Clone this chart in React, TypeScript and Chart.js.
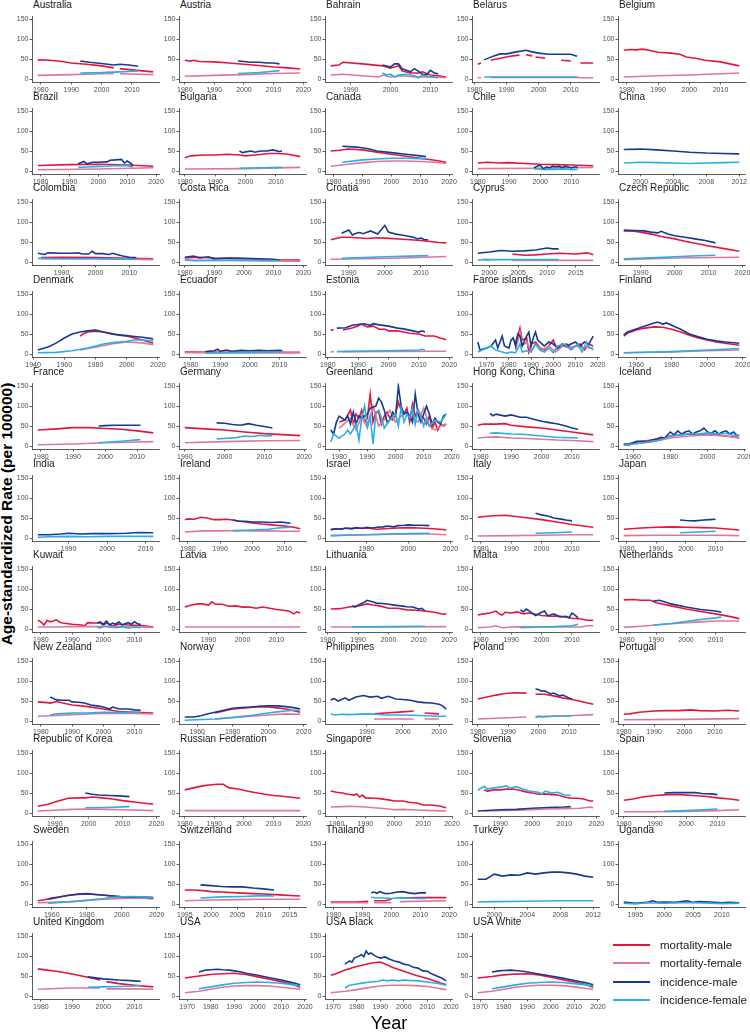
import React, { useEffect, useRef } from 'react';
import { Chart, registerables } from 'chart.js';
Chart.register(...registerables);

type Pt = [number, number | null];
type Country = { ticks: number[]; mMale?: Pt[]; mFemale?: Pt[]; iMale?: Pt[]; iFemale?: Pt[] };

const SERIES_KEYS = ['mMale', 'mFemale', 'iMale', 'iFemale'];
const SERIES_LABELS = ['mortality-male', 'mortality-female', 'incidence-male', 'incidence-female'];
const SERIES_COLORS = ['#E3173E', '#DE7898', '#163A94', '#2BAEE6'];
const Y_TICKS = [0, 50, 100, 150];

const australia: Country = {
  ticks: [1980, 1990, 2000, 2010],
  mMale: [[1979, 48], [1983, 47], [1987, 44], [1990, 40], [1995, 37], [2000, 33], [2004, 28], [2005, null], [2006, 26], [2010, 23], [2017, 18]],
  mFemale: [[1979, 9], [1990, 11], [2000, 13], [2004, 14], [2005, null], [2006, 13], [2017, 11]],
  iMale: [[1993, 45], [1996, 42], [2000, 39], [2004, 35], [2006, 37], [2009, 35], [2012, 32]],
  iFemale: [[1993, 15], [2000, 16], [2006, 18], [2012, 20]],
};
const austria: Country = {
  ticks: [1980, 1990, 2000, 2010, 2020],
  mMale: [[1980, 47], [1982, 45], [1983, 47], [1985, 44], [1990, 43], [1995, 40], [2000, 37], [2005, 34], [2010, 30], [2015, 28], [2019, 25]],
  mFemale: [[1980, 7], [1990, 9], [2000, 11], [2010, 14], [2019, 15]],
  iMale: [[1998, 45], [2000, 44], [2002, 42], [2005, 42], [2008, 40], [2010, 40], [2012, 38]],
  iFemale: [[1998, 14], [2002, 15], [2005, 16], [2009, 19], [2012, 21]],
};
const bahrain: Country = {
  ticks: [1990, 2000, 2010],
  mMale: [[1985, 33], [1987, 35], [1988, 42], [1993, 38], [1998, 33], [2000, 27], [2001, 30], [2002, 33], [2003, 20], [2005, 15], [2007, 15], [2008, 18], [2010, 10], [2012, 8], [2014, 5]],
  mFemale: [[1985, 10], [1988, 12], [1997, 5], [1998, 10], [2000, 5], [2003, 8], [2006, 5], [2010, 6], [2014, 3]],
  iMale: [[1998, 35], [2000, 30], [2001, 38], [2002, 38], [2003, 25], [2004, 22], [2005, 18], [2006, 26], [2007, 20], [2008, 12], [2009, 10], [2010, 22], [2011, 15], [2012, 13]],
  iFemale: [[1998, 15], [1999, 10], [2000, 12], [2001, 5], [2002, 10], [2004, 12], [2006, 8], [2007, 3], [2008, 10], [2010, 5], [2012, 3]],
};
const belarus: Country = {
  ticks: [1980, 1990, 2000, 2010],
  mMale: [[1981, 37], [1982, 40], [1983, null], [1985, 47], [1988, 52], [1991, 57], [1994, 60], [1995, null], [1996, 61], [1998, 58], [1998.5, null], [1999, 55], [2002, 52], [2003, null], [2007, 47], [2010, 45], [2011, null], [2013, 40], [2017, 40]],
  mFemale: [[1981, 3], [1982, 3], [1983, null], [1985, 4], [2012, 4], [2013, 3], [2017, 3]],
  iMale: [[1983, 48], [1986, 58], [1988, 63], [1990, 63], [1993, 68], [1996, 72], [1998, 68], [2000, 65], [2003, 62], [2006, 62], [2010, 62], [2012, 57]],
  iFemale: [[1983, 5], [2000, 5], [2012, 5]],
};
const belgium: Country = {
  ticks: [1980, 1990, 2000, 2010],
  mMale: [[1979, 72], [1981, 74], [1983, 73], [1985, 75], [1987, 72], [1990, 67], [1994, 65], [1997, 62], [1999, 55], [2002, 52], [2005, 47], [2010, 43], [2013, 38], [2016, 33]],
  mFemale: [[1979, 5], [1990, 8], [2000, 10], [2010, 13], [2016, 15]],
};
const brazil: Country = {
  ticks: [1980, 1990, 2000, 2010, 2020],
  mMale: [[1979, 14], [1990, 16], [2000, 17], [2010, 15], [2019, 12]],
  mFemale: [[1979, 3], [2000, 5], [2019, 8]],
  iMale: [[1993, 18], [1995, 24], [1996, 18], [1998, 22], [2000, 22], [2003, 23], [2004, 27], [2006, 28], [2008, 29], [2009, 20], [2010, 25], [2012, 15]],
  iFemale: [[1993, 9], [1996, 10], [1999, 11], [2003, 12], [2005, 13], [2008, 14], [2010, 13], [2012, 10]],
};
const bulgaria: Country = {
  ticks: [1980, 1990, 2000, 2010],
  mMale: [[1980, 33], [1982, 38], [1986, 40], [1990, 40], [1994, 42], [1998, 40], [2000, 38], [2003, 40], [2008, 44], [2011, 44], [2014, 42], [2018, 36]],
  mFemale: [[1980, 5], [2000, 6], [2018, 9]],
  iMale: [[1998, 50], [1999, 46], [2000, 48], [2002, 50], [2003, 47], [2005, 50], [2007, 50], [2009, 53], [2011, 49], [2012, 50]],
  iFemale: [[1998, 7], [2005, 8], [2012, 9]],
};
const canada: Country = {
  ticks: [1980, 1990, 2000, 2010, 2020],
  mMale: [[1979, 50], [1982, 52], [1985, 55], [1990, 53], [1995, 47], [2000, 42], [2005, 37], [2010, 32], [2015, 27], [2019, 22]],
  mFemale: [[1979, 12], [1985, 17], [1990, 21], [1995, 24], [2000, 25], [2005, 25], [2010, 24], [2015, 22], [2019, 19]],
  iMale: [[1983, 62], [1988, 60], [1992, 56], [1995, 50], [2000, 46], [2005, 42], [2010, 38], [2012, 36]],
  iFemale: [[1983, 22], [1990, 28], [1995, 30], [2000, 32], [2005, 32], [2010, 31], [2012, 30]],
};
const chile: Country = {
  ticks: [1980, 1990, 2000, 2010],
  mMale: [[1980, 20], [1983, 22], [1987, 20], [1990, 21], [1995, 19], [2000, 17], [2005, 16], [2010, 15], [2017, 13]],
  mFemale: [[1980, 6], [2000, 7], [2017, 9]],
  iMale: [[1998, 8], [2000, 15], [2001, 5], [2002, 10], [2003, 8], [2004, 12], [2005, 10], [2006, 12], [2007, 8], [2008, 12], [2009, 10], [2010, 8], [2011, 10], [2012, 10]],
  iFemale: [[1998, 5], [2000, 5], [2001, 3], [2003, 4], [2005, 4], [2008, 5], [2010, 3], [2012, 4]],
};
const china: Country = {
  ticks: [2000, 2004, 2008, 2012],
  iMale: [[1998, 54], [2000, 55], [2002, 53], [2004, 50], [2006, 47], [2008, 45], [2010, 44], [2012, 43]],
  iFemale: [[1998, 20], [2000, 22], [2002, 21], [2004, 20], [2006, 19], [2008, 20], [2010, 21], [2012, 22]],
};
const colombia: Country = {
  ticks: [1990, 2000, 2010],
  mMale: [[1984, 11], [1990, 12], [2000, 11], [2010, 9], [2017, 8]],
  mFemale: [[1984, 8], [2000, 8], [2017, 6]],
  iMale: [[1983, 22], [1985, 19], [1986, 23], [1990, 22], [1993, 22], [1995, 23], [1996, 20], [1998, 20], [1999, 27], [2000, 21], [2002, 21], [2004, 19], [2005, 22], [2008, 15], [2010, 12], [2012, 11]],
  iFemale: [[1983, 9], [1990, 8], [2000, 8], [2012, 7]],
};
const costaRica: Country = {
  ticks: [1980, 1990, 2000, 2010, 2020],
  mMale: [[1980, 10], [1985, 12], [1990, 10], [2000, 8], [2010, 5], [2019, 5]],
  mFemale: [[1980, 5], [2000, 3], [2019, 2]],
  iMale: [[1980, 12], [1983, 15], [1985, 10], [1988, 13], [1990, 8], [1995, 10], [2000, 9], [2005, 8], [2010, 7], [2012, 5]],
  iFemale: [[1980, 5], [1983, 3], [1985, 3], [1990, 4], [2000, 5], [2012, 3]],
};
const croatia: Country = {
  ticks: [1990, 2000, 2010],
  mMale: [[1985, 56], [1988, 62], [1990, 62], [1995, 59], [1998, 61], [2000, 60], [2005, 57], [2010, 54], [2015, 49], [2017, 48]],
  mFemale: [[1985, 7], [1995, 8], [2005, 10], [2017, 14]],
  iMale: [[1988, 72], [1990, 80], [1991, 68], [1992, 72], [1993, 74], [1994, 71], [1996, 78], [1998, 70], [2000, 92], [2001, 75], [2003, 70], [2005, 67], [2008, 62], [2009, 58], [2010, 60], [2011, 56], [2012, 56]],
  iFemale: [[1988, 9], [2000, 13], [2012, 16]],
};
const cyprus: Country = {
  ticks: [2000, 2005, 2010, 2015],
  mMale: [[2004, 20], [2006, 17], [2008, 18], [2010, 20], [2012, 22], [2015, 20], [2017, 23], [2018, 18]],
  mFemale: [[1999, 8], [2000, 3], [2001, null], [2004, 4], [2018, 4]],
  iMale: [[1998, 22], [2000, 25], [2002, 29], [2004, 27], [2006, 28], [2008, 30], [2010, 35], [2011, 33], [2012, 33]],
  iFemale: [[1998, 5], [2000, 6], [2004, 6], [2008, 6], [2012, 6]],
};
const czech: Country = {
  ticks: [1990, 2000, 2010, 2020],
  mMale: [[1985, 78], [1988, 77], [1990, 75], [1993, 70], [1996, 64], [2000, 58], [2003, 52], [2006, 47], [2010, 40], [2015, 33], [2019, 27]],
  mFemale: [[1985, 6], [2000, 10], [2019, 12]],
  iMale: [[1985, 80], [1988, 79], [1991, 78], [1993, 75], [1995, 73], [1996, 77], [1998, 70], [2000, 66], [2003, 62], [2006, 58], [2009, 54], [2012, 48]],
  iFemale: [[1985, 8], [1995, 11], [2005, 15], [2012, 17]],
};
const denmark: Country = {
  ticks: [1940, 1960, 1980, 2000, 2020],
  mMale: [[1970, 45], [1972, 50], [1975, 55], [1980, 57], [1985, 55], [1990, 52], [1995, 47], [2000, 45], [2005, 40], [2010, 35], [2017, 27]],
  mFemale: [[1970, 10], [1980, 17], [1990, 25], [2000, 30], [2010, 28], [2017, 23]],
  iMale: [[1943, 10], [1950, 18], [1955, 28], [1960, 40], [1965, 50], [1970, 55], [1975, 58], [1980, 60], [1985, 55], [1990, 50], [1995, 48], [2000, 46], [2005, 44], [2010, 42], [2017, 38]],
  iFemale: [[1943, 3], [1955, 4], [1965, 8], [1975, 15], [1985, 25], [1990, 28], [2000, 32], [2005, 35], [2010, 35], [2017, 33]],
};
const ecuador: Country = {
  ticks: [1980, 1990, 2000, 2010],
  mMale: [[1978, 5], [2000, 4], [2017, 4]],
  mFemale: [[1978, 3], [2017, 3]],
  iMale: [[1985, 6], [1988, 8], [1989, 12], [1990, 7], [1992, 10], [1994, 7], [1997, 9], [2000, 8], [2003, 9], [2006, 8], [2010, 9], [2011, 8]],
  iFemale: [[1985, 2], [2000, 4], [2011, 5]],
};
const estonia: Country = {
  ticks: [1980, 1990, 2000, 2010, 2020],
  mMale: [[1981, 60], [1982, 61], [1983, null], [1985, 60], [1988, 65], [1990, 70], [1991, 75], [1993, 68], [1995, 70], [1997, 62], [1999, 62], [2000, 58], [2003, 58], [2005, 55], [2007, 52], [2010, 50], [2012, 45], [2015, 45], [2017, 40], [2019, 36]],
  mFemale: [[1981, 5], [1982, 6], [1983, null], [1985, 6], [2019, 7]],
  iMale: [[1983, 65], [1986, 66], [1988, 72], [1990, 74], [1992, 76], [1994, 72], [1995, 76], [1997, 73], [2000, 70], [2003, 65], [2005, 63], [2008, 58], [2010, 55], [2011, 58], [2012, 55]],
  iFemale: [[1983, 6], [2000, 8], [2010, 10], [2011, 12], [2012, 10]],
};
const faroe: Country = {
  ticks: [1970, 1980, 1990, 2000, 2010, 2020],
  mMale: [[1983, 30], [1984, 45], [1985, 65], [1986, 35], [1988, 40], [1989, 5], [1990, 25], [1992, 30], [1994, 15], [1996, 10], [1998, 20], [2000, 35], [2002, 10], [2004, 20], [2006, 25], [2008, 15], [2010, 20], [2012, 25], [2014, 10], [2016, 25], [2018, 20]],
  mFemale: [[1983, 10], [1985, 55], [1986, 20], [1988, 30], [1990, 8], [1992, 25], [1995, 10], [1998, 20], [2001, 5], [2004, 20], [2007, 15], [2010, 20], [2013, 15], [2016, 20], [2018, 10]],
  iMale: [[1966, 30], [1967, 10], [1970, 15], [1972, 20], [1974, 35], [1975, 15], [1977, 45], [1978, 20], [1980, 15], [1981, 35], [1982, 40], [1983, 20], [1984, 50], [1985, 45], [1986, 20], [1988, 45], [1989, 55], [1990, 20], [1991, 40], [1992, 55], [1993, 35], [1995, 25], [1996, 20], [1998, 30], [2000, 25], [2002, 15], [2004, 25], [2006, 20], [2008, 25], [2010, 30], [2012, 20], [2014, 30], [2016, 25], [2017, 35], [2018, 45]],
  iFemale: [[1966, 5], [1968, 10], [1970, 15], [1972, 20], [1974, 10], [1977, 5], [1979, 2], [1981, 5], [1983, 3], [1985, 25], [1986, 5], [1988, 8], [1990, 5], [1992, 25], [1994, 10], [1996, 5], [1998, 15], [2000, 3], [2002, 20], [2005, 25], [2008, 10], [2011, 25], [2013, 5], [2015, 30], [2016, 15], [2018, 15]],
};
const finland: Country = {
  ticks: [1960, 1980, 2000, 2020],
  mMale: [[1953, 45], [1955, 52], [1960, 60], [1965, 65], [1970, 68], [1975, 67], [1980, 62], [1985, 55], [1990, 47], [1995, 40], [2000, 35], [2005, 30], [2010, 27], [2018, 22]],
  mFemale: [[1953, 3], [1980, 5], [2000, 8], [2018, 10]],
  iMale: [[1953, 48], [1955, 55], [1960, 63], [1965, 70], [1970, 78], [1972, 80], [1975, 75], [1977, 78], [1980, 72], [1985, 62], [1990, 50], [1995, 43], [2000, 37], [2005, 33], [2010, 30], [2018, 27]],
  iFemale: [[1953, 3], [1980, 6], [2000, 10], [2018, 14]],
};
const france: Country = {
  ticks: [1980, 1990, 2000, 2010],
  mMale: [[1979, 40], [1985, 43], [1990, 46], [1995, 46], [2000, 44], [2005, 42], [2010, 38], [2015, 33]],
  mFemale: [[1979, 3], [1990, 5], [2000, 8], [2010, 10], [2015, 11]],
  iMale: [[1998, 50], [2000, 51], [2003, 52], [2006, 52], [2009, 52], [2011, 52]],
  iFemale: [[1998, 8], [2005, 12], [2011, 16]],
};
const germany: Country = {
  ticks: [1990, 2000, 2010, 2020],
  mMale: [[1990, 46], [1995, 43], [2000, 40], [2005, 35], [2010, 31], [2019, 26]],
  mFemale: [[1990, 8], [2000, 11], [2010, 13], [2019, 14]],
  iMale: [[1998, 58], [2000, 57], [2002, 54], [2004, 52], [2006, 56], [2008, 52], [2010, 49], [2012, 45]],
  iFemale: [[1998, 18], [2000, 19], [2003, 21], [2005, 25], [2007, 24], [2009, 27], [2010, 25], [2012, 26]],
};
const greenland: Country = {
  ticks: [1980, 1990, 2000, 2010, 2020],
  mMale: [[1980, 60], [1982, 65], [1984, 90], [1985, 55], [1986, 80], [1987, 70], [1988, 90], [1989, 60], [1990, 70], [1991, 130], [1992, 60], [1993, 85], [1994, 85], [1995, 55], [1996, 75], [1997, 85], [1998, 70], [1999, 65], [2000, 80], [2001, 110], [2002, 90], [2003, 80], [2004, 95], [2005, 60], [2006, 105], [2007, 75], [2008, 90], [2009, 75], [2010, 70], [2011, 55], [2012, 75], [2013, 45], [2014, 60], [2015, 40], [2016, 55], [2017, 50], [2018, 55]],
  mFemale: [[1980, 45], [1984, 70], [1986, 40], [1988, 75], [1990, 45], [1992, 100], [1994, 50], [1996, 65], [1998, 90], [2000, 60], [2002, 75], [2004, 85], [2006, 70], [2008, 60], [2010, 95], [2012, 50], [2014, 40], [2016, 50], [2018, 55]],
  iMale: [[1977, 40], [1978, 30], [1979, 60], [1980, 75], [1982, 65], [1983, 75], [1984, 55], [1985, 85], [1986, 55], [1987, 75], [1988, 70], [1990, 80], [1991, 95], [1993, 100], [1994, 120], [1995, 110], [1996, 90], [1997, 60], [1998, 65], [1999, 85], [2000, 75], [2001, 150], [2002, 100], [2003, 80], [2004, 85], [2005, 75], [2006, 60], [2007, 130], [2008, 80], [2009, 60], [2010, 80], [2011, 100], [2012, 80], [2013, 55], [2014, 70], [2015, 60], [2016, 55], [2017, 75], [2018, 80]],
  iFemale: [[1977, 10], [1978, 30], [1980, 20], [1982, 30], [1983, 40], [1984, 30], [1986, 55], [1987, 15], [1988, 70], [1989, 100], [1990, 50], [1991, 75], [1992, 5], [1993, 80], [1994, 90], [1995, 70], [1996, 45], [1998, 65], [2000, 80], [2001, 50], [2002, 95], [2003, 60], [2004, 80], [2005, 70], [2006, 95], [2007, 55], [2008, 90], [2009, 75], [2010, 50], [2011, 70], [2012, 50], [2014, 65], [2016, 60], [2018, 80]],
};
const hongKong: Country = {
  ticks: [1980, 1990, 2000, 2010],
  mMale: [[1979, 52], [1981, 55], [1985, 55], [1988, 56], [1990, 52], [1995, 48], [2000, 45], [2005, 40], [2010, 35], [2017, 28]],
  mFemale: [[1979, 20], [1982, 22], [1985, 23], [1990, 20], [1995, 19], [2000, 17], [2005, 15], [2010, 14], [2017, 11]],
  iMale: [[1983, 82], [1984, 76], [1985, 80], [1988, 75], [1990, 78], [1993, 72], [1995, 72], [1998, 66], [2000, 62], [2003, 58], [2005, 56], [2008, 50], [2010, 45], [2012, 42]],
  iFemale: [[1983, 32], [1985, 33], [1990, 30], [1995, 29], [2000, 25], [2005, 22], [2012, 20]],
};
const iceland: Country = {
  ticks: [1960, 1980, 2000, 2020],
  mMale: [[1955, 3], [1960, 8], [1965, 12], [1970, 15], [1975, 18], [1980, 25], [1985, 28], [1990, 30], [1995, 28], [2000, 30], [2005, 28], [2010, 25], [2015, 22], [2017, 20]],
  mFemale: [[1955, 2], [1960, 5], [1970, 10], [1980, 20], [1990, 25], [2000, 28], [2010, 25], [2017, 20]],
  iMale: [[1955, 5], [1958, 3], [1960, 8], [1962, 12], [1965, 12], [1968, 10], [1970, 15], [1973, 18], [1975, 22], [1977, 20], [1979, 30], [1980, 35], [1982, 28], [1984, 38], [1986, 30], [1988, 35], [1990, 38], [1992, 30], [1994, 35], [1996, 38], [1998, 45], [2000, 35], [2002, 32], [2004, 38], [2006, 30], [2008, 35], [2010, 38], [2012, 30], [2014, 35], [2016, 25], [2017, 28]],
  iFemale: [[1955, 2], [1960, 5], [1965, 8], [1970, 12], [1975, 15], [1980, 25], [1985, 28], [1990, 30], [1995, 30], [2000, 33], [2005, 30], [2010, 32], [2015, 25], [2017, 27]],
};
const india: Country = {
  ticks: [1990, 2000, 2010],
  iMale: [[1982, 8], [1985, 8], [1988, 10], [1990, 12], [1993, 10], [1996, 11], [2000, 11], [2005, 12], [2008, 14], [2012, 13]],
  iFemale: [[1982, 2], [1985, 3], [1990, 4], [1995, 3], [2000, 4], [2005, 4], [2012, 4]],
};
const ireland: Country = {
  ticks: [1980, 1990, 2000, 2010],
  mMale: [[1979, 46], [1980, 48], [1982, 47], [1984, 52], [1986, 50], [1988, 46], [1990, 46], [1992, 47], [1994, 45], [1996, 42], [1998, 40], [2000, 38], [2003, 35], [2006, 33], [2010, 30], [2013, 27], [2015, 23]],
  mFemale: [[1979, 15], [1985, 18], [1990, 18], [1995, 19], [2000, 18], [2005, 18], [2010, 17], [2015, 17]],
  iMale: [[1994, 45], [1996, 42], [1998, 42], [2000, 40], [2003, 40], [2006, 39], [2009, 40], [2012, 37]],
  iFemale: [[1994, 18], [2000, 20], [2005, 22], [2008, 25], [2012, 27]],
};
const israel: Country = {
  ticks: [1980, 2000, 2020],
  mMale: [[1963, 22], [1970, 24], [1980, 25], [1985, 22], [1990, 24], [1995, 25], [2000, 26], [2005, 25], [2010, 24], [2015, 22], [2018, 20]],
  mFemale: [[1963, 7], [1980, 8], [2000, 10], [2010, 10], [2018, 8]],
  iMale: [[1963, 20], [1965, 23], [1968, 22], [1970, 25], [1973, 23], [1975, 26], [1978, 24], [1980, 27], [1983, 25], [1985, 27], [1988, 28], [1990, 30], [1993, 28], [1995, 31], [1998, 32], [2000, 33], [2003, 32], [2006, 32], [2010, 31]],
  iFemale: [[1963, 5], [1970, 7], [1980, 8], [1990, 10], [2000, 11], [2010, 12]],
};
const italy: Country = {
  ticks: [1980, 1990, 2000, 2010],
  mMale: [[1979, 52], [1983, 55], [1988, 57], [1990, 55], [1995, 51], [2000, 46], [2005, 40], [2010, 34], [2017, 27]],
  mFemale: [[1979, 5], [1990, 6], [2000, 7], [2010, 8], [2017, 8]],
  iMale: [[1998, 62], [2000, 58], [2002, 55], [2004, 50], [2006, 48], [2008, 45], [2010, 43]],
  iFemale: [[1998, 12], [2004, 13], [2010, 15]],
};
const japan: Country = {
  ticks: [1980, 1990, 2000, 2010],
  mMale: [[1979, 22], [1985, 25], [1990, 27], [1995, 28], [2000, 27], [2005, 26], [2010, 25], [2018, 20]],
  mFemale: [[1979, 6], [1990, 7], [2000, 7], [2010, 7], [2018, 6]],
  iMale: [[1998, 45], [2000, 44], [2003, 43], [2006, 45], [2008, 46], [2010, 47]],
  iFemale: [[1998, 13], [2004, 15], [2010, 17]],
};
const kuwait: Country = {
  ticks: [1980, 1990, 2000, 2010],
  mMale: [[1979, 22], [1980, 18], [1981, 10], [1982, 22], [1983, 18], [1984, 20], [1985, 23], [1986, 17], [1987, 15], [1990, 12], [1993, 10], [1994, 8], [1995, 16], [1997, 15], [1999, 15], [2000, 10], [2001, 15], [2003, 8], [2005, 12], [2008, 10], [2010, 9], [2013, 8], [2016, 5]],
  mFemale: [[1979, 5], [1985, 5], [1990, 6], [2000, 6], [2010, 5], [2016, 4]],
  iMale: [[1998, 15], [1999, 18], [2000, 12], [2001, 20], [2002, 10], [2003, 15], [2004, 12], [2005, 18], [2006, 10], [2007, 13], [2008, 16], [2009, 12], [2010, 18], [2011, 13], [2012, 11]],
  iFemale: [[1998, 5], [1999, 2], [2000, 8], [2002, 5], [2004, 3], [2006, 6], [2008, 2], [2010, 5], [2012, 3]],
};
const latvia: Country = {
  ticks: [1990, 2000, 2010],
  mMale: [[1983, 55], [1985, 60], [1987, 63], [1988, 63], [1990, 60], [1991, 68], [1992, 62], [1994, 62], [1996, 57], [1998, 58], [2000, 55], [2002, 55], [2004, 52], [2006, 55], [2008, 52], [2010, 49], [2012, 47], [2014, 44], [2015, 38], [2016, 43], [2017, 40]],
  mFemale: [[1983, 5], [2000, 5], [2017, 5]],
};
const lithuania: Country = {
  ticks: [1980, 1990, 2000, 2010, 2020],
  mMale: [[1981, 50], [1984, 51], [1987, 55], [1990, 58], [1993, 63], [1995, 60], [1997, 58], [2000, 52], [2003, 52], [2006, 48], [2009, 47], [2012, 45], [2015, 42], [2018, 37], [2019, 38]],
  mFemale: [[1981, 5], [2000, 5], [2019, 6]],
  iMale: [[1988, 58], [1989, 55], [1990, 60], [1992, 67], [1993, 72], [1995, 68], [1996, 65], [1998, 64], [2000, 62], [2002, 60], [2004, 58], [2006, 56], [2008, 55], [2010, 50], [2011, 52], [2012, 45]],
  iFemale: [[1988, 5], [2000, 6], [2012, 7]],
};
const malta: Country = {
  ticks: [1980, 1990, 2000, 2010],
  mMale: [[1979, 35], [1981, 38], [1983, 40], [1985, 45], [1986, 38], [1987, 35], [1988, 42], [1990, 40], [1992, 43], [1994, 38], [1996, 40], [1998, 37], [2000, 34], [2003, 32], [2005, 33], [2008, 30], [2010, 27], [2013, 25], [2015, 22], [2017, 22]],
  mFemale: [[1979, 3], [1983, 5], [1985, 8], [1987, 3], [1990, 5], [1995, 6], [2000, 5], [2005, 6], [2010, 5], [2013, 5], [2015, 8], [2017, 8]],
  iMale: [[1993, 48], [1994, 43], [1995, 50], [1996, 45], [1998, 34], [2000, 42], [2001, 45], [2002, 33], [2004, 38], [2006, 30], [2008, 32], [2009, 28], [2010, 40], [2011, 35], [2012, 28]],
  iFemale: [[1993, 3], [2000, 5], [2005, 6], [2010, 8], [2012, 12]],
};
const netherlands: Country = {
  ticks: [1980, 1990, 2000, 2010],
  mMale: [[1979, 73], [1982, 74], [1985, 72], [1988, 72], [1990, 66], [1995, 58], [2000, 50], [2005, 44], [2010, 38], [2015, 31], [2018, 26]],
  mFemale: [[1979, 4], [1985, 7], [1990, 10], [1995, 13], [2000, 16], [2005, 18], [2010, 20], [2015, 20], [2018, 20]],
  iMale: [[1989, 70], [1991, 72], [1993, 68], [1995, 63], [2000, 55], [2005, 49], [2010, 45], [2012, 42]],
  iFemale: [[1989, 10], [1995, 14], [2000, 19], [2005, 24], [2010, 28], [2012, 30]],
};
const newZealand: Country = {
  ticks: [1980, 1990, 2000, 2010],
  mMale: [[1979, 48], [1982, 46], [1983, 45], [1985, 49], [1987, 45], [1990, 40], [1995, 36], [2000, 30], [2005, 24], [2010, 22], [2016, 20]],
  mFemale: [[1979, 12], [1985, 14], [1990, 16], [1995, 18], [2000, 19], [2005, 19], [2010, 19], [2016, 18]],
  iMale: [[1983, 60], [1985, 53], [1987, 52], [1989, 52], [1990, 48], [1992, 47], [1994, 45], [1996, 40], [1998, 38], [2000, 35], [2002, 30], [2003, 35], [2005, 30], [2008, 30], [2010, 28], [2012, 27]],
  iFemale: [[1983, 15], [1985, 18], [1990, 20], [1995, 20], [2000, 22], [2005, 21], [2010, 22], [2012, 22]],
};
const norway: Country = {
  ticks: [1960, 1980, 2000, 2020],
  mMale: [[1970, 20], [1975, 25], [1980, 30], [1985, 32], [1990, 34], [1995, 36], [2000, 35], [2005, 33], [2010, 30], [2015, 25], [2018, 22]],
  mFemale: [[1970, 5], [1980, 8], [1990, 12], [2000, 15], [2010, 18], [2018, 17]],
  iMale: [[1953, 10], [1958, 10], [1962, 13], [1965, 17], [1970, 22], [1975, 27], [1980, 32], [1985, 34], [1990, 35], [1995, 37], [2000, 38], [2005, 38], [2010, 36], [2015, 33], [2018, 30]],
  iFemale: [[1953, 2], [1960, 3], [1970, 5], [1980, 9], [1990, 14], [2000, 20], [2005, 23], [2010, 25], [2015, 27], [2018, 28]],
};
const philippines: Country = {
  ticks: [1990, 2000, 2010],
  mMale: [[1992, 18], [1995, 20], [2000, 23], [2003, 25], [2004, null], [2006, 20], [2010, 18]],
  mFemale: [[1992, 5], [2003, 5], [2004, null], [2006, 5], [2010, 5]],
  iMale: [[1980, 53], [1981, 56], [1982, 50], [1984, 58], [1985, 52], [1987, 60], [1989, 64], [1991, 60], [1993, 62], [1994, 57], [1996, 62], [1998, 55], [2000, 54], [2002, 52], [2004, 48], [2006, 46], [2008, 45], [2010, 42], [2011, 38], [2012, 30]],
  iFemale: [[1980, 18], [1981, 15], [1983, 17], [1985, 16], [1990, 18], [1993, 17], [1995, 15], [2000, 15], [2005, 14], [2010, 12], [2012, 12]],
};
const poland: Country = {
  ticks: [1980, 1990, 2000, 2010],
  mMale: [[1980, 55], [1983, 60], [1986, 65], [1989, 69], [1992, 71], [1996, 70], [1997, null], [1999, 67], [2002, 67], [2005, 63], [2008, 58], [2011, 54], [2014, 49], [2018, 42]],
  mFemale: [[1980, 5], [1996, 10], [1997, null], [1999, 11], [2010, 13], [2018, 16]],
  iMale: [[1999, 80], [2000, 79], [2001, 75], [2002, 76], [2004, 68], [2005, 70], [2007, 63], [2008, 65], [2010, 58], [2011, 55]],
  iFemale: [[1999, 8], [2000, 12], [2001, 10], [2005, 12], [2011, 13]],
};
const portugal: Country = {
  ticks: [1980, 1990, 2000, 2010],
  mMale: [[1980, 17], [1982, 18], [1985, 22], [1988, 24], [1990, 25], [1994, 26], [1998, 26], [2002, 28], [2005, 26], [2010, 25], [2014, 27], [2018, 25]],
  mFemale: [[1980, 3], [2000, 4], [2018, 6]],
};
const korea: Country = {
  ticks: [1990, 2000, 2010, 2020],
  mMale: [[1985, 17], [1988, 22], [1991, 30], [1994, 37], [1997, 38], [1999, 38], [2001, 40], [2004, 38], [2007, 35], [2010, 31], [2014, 27], [2019, 22]],
  mFemale: [[1985, 5], [1990, 7], [1995, 9], [2000, 10], [2005, 9], [2010, 8], [2019, 6]],
  iMale: [[1999, 50], [2001, 47], [2003, 45], [2006, 44], [2009, 43], [2012, 41]],
  iFemale: [[1999, 13], [2005, 14], [2012, 16]],
};
const russia: Country = {
  ticks: [1980, 1990, 2000, 2010, 2020],
  mMale: [[1980, 58], [1983, 63], [1986, 68], [1989, 71], [1991, 72], [1993, 72], [1995, 63], [1998, 60], [2001, 55], [2004, 51], [2007, 47], [2010, 44], [2013, 42], [2019, 37]],
  mFemale: [[1980, 6], [2000, 6], [2019, 6]],
};
const singapore: Country = {
  ticks: [1980, 1990, 2000, 2010, 2020],
  mMale: [[1978, 55], [1980, 52], [1982, 50], [1984, 47], [1986, 45], [1987, 48], [1988, 40], [1989, 45], [1990, 38], [1993, 37], [1995, 36], [1998, 33], [2000, 30], [2003, 30], [2005, 27], [2008, 25], [2010, 20], [2013, 20], [2016, 17], [2018, 13]],
  mFemale: [[1978, 15], [1982, 16], [1985, 17], [1990, 15], [1993, 13], [1995, 12], [1998, 10], [2000, 8], [2003, 9], [2006, 8], [2010, 7], [2014, 6], [2018, 5]],
};
const slovenia: Country = {
  ticks: [1990, 2000, 2010, 2020],
  mMale: [[1985, 58], [1986, 55], [1988, 58], [1990, 58], [1992, 60], [1994, 60], [1996, 57], [1998, 53], [2000, 50], [2002, 47], [2004, 48], [2006, 46], [2008, 45], [2010, 40], [2012, 37], [2014, 37], [2016, 35], [2018, 30], [2019, 30]],
  mFemale: [[1985, 5], [1995, 7], [2000, 8], [2005, 10], [2010, 11], [2015, 12], [2018, 15], [2019, 13]],
  iMale: [[1983, 5], [1990, 8], [1995, 9], [2000, 12], [2005, 14], [2010, 15], [2012, 16]],
  iFemale: [[1983, 57], [1985, 67], [1986, 60], [1988, 63], [1990, 65], [1992, 68], [1993, 62], [1995, 66], [1997, 60], [1999, 55], [2000, 54], [2002, 52], [2003, 48], [2004, 55], [2006, 50], [2008, 52], [2010, 45], [2012, 44]],
};
const spain: Country = {
  ticks: [1980, 1990, 2000, 2010],
  mMale: [[1980, 32], [1983, 35], [1986, 40], [1990, 44], [1994, 46], [1998, 46], [2002, 44], [2006, 42], [2010, 38], [2014, 35], [2017, 32]],
  mFemale: [[1980, 3], [1990, 3], [2000, 4], [2010, 6], [2017, 8]],
  iMale: [[1993, 50], [1996, 51], [2000, 51], [2003, 51], [2005, 49], [2008, 48], [2010, 46]],
  iFemale: [[1993, 4], [2000, 6], [2005, 8], [2010, 10]],
};
const sweden: Country = {
  ticks: [1960, 1980, 2000, 2020],
  mMale: [[1952, 8], [1955, 10], [1960, 15], [1965, 18], [1970, 22], [1975, 24], [1980, 25], [1985, 24], [1990, 22], [1995, 20], [2000, 18], [2005, 17], [2010, 15], [2018, 13]],
  mFemale: [[1952, 3], [1960, 4], [1970, 6], [1980, 9], [1990, 12], [2000, 14], [2010, 15], [2018, 14]],
  iMale: [[1958, 12], [1962, 15], [1965, 18], [1970, 22], [1975, 25], [1980, 26], [1985, 24], [1990, 22], [1995, 20], [2000, 18], [2005, 18], [2010, 18], [2018, 16]],
  iFemale: [[1958, 2], [1965, 4], [1970, 5], [1975, 7], [1980, 9], [1985, 12], [1990, 14], [1995, 17], [2000, 18], [2005, 19], [2010, 18], [2018, 17]],
};
const switzerland: Country = {
  ticks: [1995, 2000, 2005, 2010, 2015],
  mMale: [[1995, 35], [1997, 35], [1999, 33], [2000, 31], [2002, 30], [2005, 28], [2008, 26], [2010, 25], [2013, 23], [2017, 20]],
  mFemale: [[1995, 8], [2000, 10], [2005, 11], [2010, 12], [2017, 12]],
  iMale: [[1998, 48], [2000, 46], [2002, 44], [2004, 43], [2006, 43], [2008, 40], [2010, 38], [2012, 35]],
  iFemale: [[1998, 15], [2002, 18], [2006, 19], [2010, 21], [2012, 20]],
};
const thailand: Country = {
  ticks: [1980, 1990, 2000, 2010, 2020],
  mMale: [[1979, 5], [1983, 5], [1988, 5], [1992, 7], [1993, null], [1994, 8], [1996, 8], [1998, 8], [2000, 12], [2001, null], [2003, 15], [2010, 16], [2019, 16]],
  mFemale: [[1979, 3], [1992, 3], [1993, null], [1994, 3], [2000, 3], [2001, null], [2003, 6], [2019, 8]],
  iMale: [[1993, 28], [1994, 30], [1995, 27], [1996, 31], [1998, 26], [2000, 27], [2002, 30], [2004, 31], [2006, 28], [2008, 26], [2010, 28], [2012, 28]],
  iFemale: [[1993, 17], [1995, 15], [1997, 15], [2000, 14], [2003, 16], [2006, 15], [2009, 14], [2012, 14]],
};
const turkey: Country = {
  ticks: [2000, 2004, 2008, 2012],
  iMale: [[1998, 62], [1999, 62], [2000, 75], [2001, 70], [2002, 73], [2003, 72], [2004, 78], [2005, 75], [2006, 78], [2007, 80], [2008, 80], [2009, 78], [2010, 75], [2011, 70], [2012, 67]],
  iFemale: [[1998, 5], [2000, 6], [2004, 7], [2008, 8], [2012, 8]],
};
const uganda: Country = {
  ticks: [1995, 2000, 2005, 2010],
  iMale: [[1993, 5], [1995, 2], [1997, 4], [1998, 8], [1999, 4], [2000, 5], [2002, 4], [2004, 8], [2005, 4], [2006, 6], [2008, 5], [2010, 3], [2011, 4], [2013, 3]],
  iFemale: [[1993, 2], [1995, 0], [1997, 3], [2000, 2], [2003, 3], [2005, 3], [2008, 2], [2010, 1], [2013, 2]],
};
const uk: Country = {
  ticks: [1980, 1990, 2000, 2010],
  mMale: [[1979, 68], [1982, 65], [1985, 62], [1990, 55], [1995, 47], [1999, 40], [2000, null], [2001, 36], [2005, 31], [2010, 27], [2016, 23]],
  mFemale: [[1979, 17], [1985, 19], [1990, 20], [1995, 20], [1999, 20], [2000, null], [2001, 18], [2010, 18], [2016, 17]],
  iMale: [[1995, 48], [2000, 43], [2005, 40], [2010, 38], [2012, 37]],
  iFemale: [[1995, 22], [2000, 23], [2005, 24], [2010, 25], [2012, 26]],
};
const usa: Country = {
  ticks: [1970, 1980, 1990, 2000, 2010, 2020],
  mMale: [[1969, 45], [1975, 50], [1980, 54], [1985, 56], [1990, 57], [1995, 54], [2000, 48], [2005, 42], [2010, 36], [2015, 28], [2018, 22]],
  mFemale: [[1969, 8], [1975, 12], [1980, 17], [1985, 22], [1990, 25], [1995, 26], [2000, 26], [2005, 25], [2010, 22], [2015, 19], [2018, 17]],
  iMale: [[1975, 60], [1978, 65], [1980, 66], [1983, 67], [1985, 66], [1988, 65], [1990, 63], [1993, 60], [1995, 57], [2000, 52], [2005, 46], [2010, 40], [2015, 33], [2018, 28]],
  iFemale: [[1975, 18], [1980, 23], [1985, 28], [1990, 32], [1995, 34], [2000, 35], [2005, 34], [2010, 32], [2015, 28], [2018, 25]],
};
const usaBlack: Country = {
  ticks: [1970, 1980, 1990, 2000, 2010, 2020],
  mMale: [[1969, 52], [1971, 55], [1975, 65], [1980, 74], [1985, 81], [1988, 84], [1990, 85], [1993, 78], [1995, 72], [2000, 62], [2005, 52], [2010, 44], [2015, 34], [2018, 28]],
  mFemale: [[1969, 8], [1975, 12], [1980, 16], [1985, 21], [1990, 25], [1995, 27], [2000, 27], [2005, 26], [2010, 24], [2015, 19], [2018, 16]],
  iMale: [[1975, 80], [1977, 88], [1978, 85], [1979, 95], [1981, 100], [1982, 104], [1983, 98], [1984, 113], [1985, 105], [1986, 108], [1988, 100], [1990, 95], [1992, 98], [1994, 92], [1996, 88], [1998, 85], [2000, 80], [2002, 78], [2004, 72], [2006, 70], [2008, 63], [2010, 62], [2012, 55], [2014, 50], [2016, 45], [2018, 38]],
  iFemale: [[1975, 20], [1977, 27], [1980, 30], [1983, 33], [1986, 35], [1989, 37], [1991, 40], [1993, 38], [1995, 40], [1998, 38], [2000, 40], [2003, 39], [2006, 38], [2010, 35], [2014, 32], [2018, 27]],
};
const usaWhite: Country = {
  ticks: [1970, 1980, 1990, 2000, 2010, 2020],
  mMale: [[1969, 45], [1975, 49], [1980, 53], [1985, 55], [1990, 56], [1995, 53], [2000, 47], [2005, 41], [2010, 35], [2015, 28], [2018, 22]],
  mFemale: [[1969, 8], [1975, 12], [1980, 17], [1985, 22], [1990, 25], [1995, 27], [2000, 27], [2005, 26], [2010, 23], [2015, 19], [2018, 17]],
  iMale: [[1975, 60], [1978, 63], [1980, 64], [1983, 65], [1985, 64], [1988, 62], [1990, 60], [1993, 57], [1995, 55], [2000, 50], [2005, 45], [2010, 39], [2015, 33], [2018, 28]],
  iFemale: [[1975, 18], [1980, 23], [1985, 28], [1990, 32], [1995, 34], [2000, 35], [2005, 34], [2010, 31], [2015, 28], [2018, 25]],
};

const COUNTRY_NAMES = [
  'Australia', 'Austria', 'Bahrain', 'Belarus', 'Belgium',
  'Brazil', 'Bulgaria', 'Canada', 'Chile', 'China',
  'Colombia', 'Costa Rica', 'Croatia', 'Cyprus', 'Czech Republic',
  'Denmark', 'Ecuador', 'Estonia', 'Faroe islands', 'Finland',
  'France', 'Germany', 'Greenland', 'Hong Kong, China', 'Iceland',
  'India', 'Ireland', 'Israel', 'Italy', 'Japan',
  'Kuwait', 'Latvia', 'Lithuania', 'Malta', 'Netherlands',
  'New Zealand', 'Norway', 'Philippines', 'Poland', 'Portugal',
  'Republic of Korea', 'Russian Federation', 'Singapore', 'Slovenia', 'Spain',
  'Sweden', 'Switzerland', 'Thailand', 'Turkey', 'Uganda',
  'United Kingdom', 'USA', 'USA Black', 'USA White',
];
const COUNTRY_DATA: Country[] = [
  australia, austria, bahrain, belarus, belgium,
  brazil, bulgaria, canada, chile, china,
  colombia, costaRica, croatia, cyprus, czech,
  denmark, ecuador, estonia, faroe, finland,
  france, germany, greenland, hongKong, iceland,
  india, ireland, israel, italy, japan,
  kuwait, latvia, lithuania, malta, netherlands,
  newZealand, norway, philippines, poland, portugal,
  korea, russia, singapore, slovenia, spain,
  sweden, switzerland, thailand, turkey, uganda,
  uk, usa, usaBlack, usaWhite,
];

const FONT = '"Liberation Sans", Arial, Helvetica, sans-serif';
const ROW_PITCH = 91.7;
const COL_PITCH = 146.5;
const PLOT_LEFT0 = 32;
const PLOT_TOP_OFF = 16;
const PLOT_W = 127;
const PLOT_H = 66;
const YAXIS_W = 16;
const XAXIS_H = 13;
const PAD_TOP = 5;
const PAD_RIGHT = 12;

function Panel({ name, d, idx }: { name: string; d: Country; idx: number }) {
  const ref = useRef<HTMLCanvasElement>(null);
  const row = Math.floor(idx / 5);
  const col = idx % 5;
  const plotL = Math.round(PLOT_LEFT0 + col * COL_PITCH);
  const rowTop = Math.round(row * ROW_PITCH);
  const plotT = rowTop + PLOT_TOP_OFF;
  const cw = YAXIS_W + PLOT_W + PAD_RIGHT;
  const ch = PAD_TOP + PLOT_H + XAXIS_H;

  useEffect(() => {
    const xs: number[] = [];
    SERIES_KEYS.forEach((k) => ((d as any)[k] || []).forEach((p: Pt) => xs.push(p[0])));
    const lo = Math.min(...xs);
    const hi = Math.max(...xs);
    const pad = (hi - lo) * 0.05;
    const datasets: any[] = [];
    SERIES_KEYS.forEach((k, i) => {
      const pts: Pt[] | undefined = (d as any)[k];
      if (!pts) return;
      datasets.push({
        label: SERIES_LABELS[i],
        data: pts.map((p) => ({ x: p[0], y: p[1] })),
        borderColor: SERIES_COLORS[i],
        backgroundColor: SERIES_COLORS[i],
        borderWidth: 1.6,
        pointRadius: 0,
        fill: false,
        spanGaps: false,
        tension: 0,
        order: 4 - i,
      });
    });
    const tickFont = { size: 7, family: FONT };
    const grid = { display: true, drawOnChartArea: false, drawTicks: true, tickLength: 2.5, color: '#333333', lineWidth: 0.8 };
    const border = { display: true, color: '#333333', width: 0.8 };
    const chart = new Chart(ref.current as HTMLCanvasElement, {
      type: 'line',
      data: { datasets },
      options: {
        responsive: false,
        animation: false,
        devicePixelRatio: 1,
        events: [],
        layout: { padding: { top: PAD_TOP, right: PAD_RIGHT, left: 0, bottom: 0 } },
        plugins: { legend: { display: false }, tooltip: { enabled: false }, title: { display: false } },
        scales: {
          x: {
            type: 'linear',
            min: lo - pad,
            max: hi + pad,
            afterBuildTicks: (s: any) => { s.ticks = d.ticks.map((v) => ({ value: v })); },
            afterFit: (s: any) => { s.height = XAXIS_H; },
            ticks: { font: tickFont, color: '#4D4D4D', padding: 1, maxRotation: 0, autoSkip: false, callback: (v: any) => String(v) },
            grid, border,
          },
          y: {
            type: 'linear',
            min: -7.5,
            max: 157.5,
            afterBuildTicks: (s: any) => { s.ticks = Y_TICKS.map((v) => ({ value: v })); },
            afterFit: (s: any) => { s.width = YAXIS_W; },
            ticks: { font: tickFont, color: '#4D4D4D', padding: 1, callback: (v: any) => String(v) },
            grid, border,
          },
        },
      } as any,
    });
    return () => chart.destroy();
  }, []);

  return (
    <>
      <div style={{ position: 'absolute', left: plotL + 1, top: rowTop - 1, fontSize: 10, lineHeight: '11px', whiteSpace: 'nowrap', color: '#1a1a1a' }}>{name}</div>
      <canvas ref={ref} width={cw} height={ch} style={{ position: 'absolute', left: plotL - YAXIS_W, top: plotT - PAD_TOP, width: cw, height: ch }} />
    </>
  );
}

const LEGEND_Y = [945, 963, 982, 1000];

export default function App() {
  return (
    <div style={{ position: 'absolute', left: 0, top: 0, width: 750, height: 1033, background: '#ffffff', fontFamily: FONT, overflow: 'hidden' }}>
      {COUNTRY_NAMES.map((n, i) => (
        <Panel key={n} name={n} d={COUNTRY_DATA[i]} idx={i} />
      ))}
      <div style={{ position: 'absolute', left: 7, top: 514, transform: 'translate(-50%, -50%) rotate(-90deg)', whiteSpace: 'nowrap', fontSize: 15.5, fontWeight: 'bold', color: '#000' }}>
        Age-standardized Rate (per 100000)
      </div>
      <div style={{ position: 'absolute', left: 389, top: 1023, transform: 'translate(-50%, -50%)', whiteSpace: 'nowrap', fontSize: 18, color: '#000' }}>
        Year
      </div>
      {SERIES_LABELS.map((lab, i) => (
        <React.Fragment key={lab}>
          <div style={{ position: 'absolute', left: 613, top: LEGEND_Y[i] - 1, width: 37, height: 2, background: SERIES_COLORS[i] }} />
          <div style={{ position: 'absolute', left: 660, top: LEGEND_Y[i] - 7, fontSize: 11.5, lineHeight: '14px', whiteSpace: 'nowrap', color: '#1a1a1a' }}>{lab}</div>
        </React.Fragment>
      ))}
    </div>
  );
}
